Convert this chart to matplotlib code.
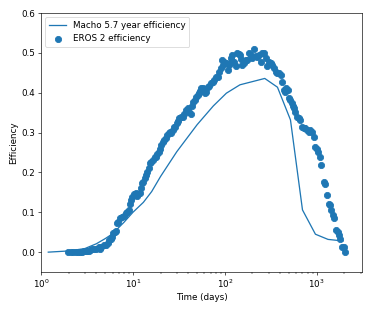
import matplotlib
matplotlib.use("Agg")
import matplotlib.pyplot as plt

plt.rcParams["font.size"] = 10.8

# Macho 5.7 year efficiency curve (time in days, efficiency)
macho_t = [1.2, 2.0, 3.0, 4.0, 5.0, 6.0, 8.0, 10.0, 13.0, 16.0, 20.0, 30.0,
           50.0, 75.0, 104.0, 146.0, 272.0, 374.0, 518.0, 700.0, 968.0,
           1327.0, 1932.0]
macho_eff = [0.0, 0.003, 0.009, 0.021, 0.034, 0.046, 0.075, 0.1, 0.125,
             0.152, 0.19, 0.252, 0.32, 0.367, 0.399, 0.42, 0.436, 0.414,
             0.332, 0.106, 0.045, 0.032, 0.028]

# EROS 2 efficiency points
eros_t = [1.98, 2.10, 2.24, 2.39, 2.54, 2.64, 2.80, 2.95, 3.07, 3.18, 3.34,
          3.45, 3.63, 3.78, 4.01, 4.25, 4.35, 4.54, 4.81, 5.06, 5.36, 5.50,
          5.73, 5.97, 6.07, 6.33, 6.60, 6.71, 6.94, 7.29, 7.66, 8.0, 8.33,
          8.69, 9.05, 9.20, 9.59, 9.84, 10.2, 10.7, 11.0, 11.3, 11.8, 12.1,
          12.6, 13.0, 13.5, 13.9, 14.4, 14.9, 15.4, 15.9, 16.5, 17.2, 17.9,
          18.4, 19.1, 19.8, 20.4, 21.1, 22.0, 23.0, 23.5, 24.5, 25.4, 26.2,
          27.1, 28.0, 29.0, 30.0, 31.0, 32.0, 33.4, 34.8, 36.3, 37.8, 39.4,
          41.1, 42.5, 43.9, 45.4, 46.9, 48.5, 50.6, 52.7, 54.0, 55.4, 58.2,
          60.2, 62.3, 64.9, 67.7, 70.0, 73.5, 76.7, 80.0, 83.3, 86.8, 90.5,
          92.8, 95.9, 99.1, 102.6, 107, 110, 113, 117, 121, 126, 132, 137,
          141, 145, 150, 155, 162, 169, 176, 184, 191, 199, 208, 217, 226,
          235, 245, 256, 267, 278, 290, 302, 315, 328, 342, 357, 372, 388,
          404, 421, 439, 450, 465, 481, 498, 514, 532, 550, 569, 587, 612,
          638, 665, 693, 723, 754, 786, 819, 854, 890, 928, 968, 1009, 1034,
          1077, 1124, 1191, 1242, 1294, 1349, 1383, 1429, 1490, 1541, 1619,
          1702, 1759, 1804, 1881, 1961, 2044]
eros_eff = [0.0, 0.0, 0.0, 0.0, 0.0, 0.001, 0.001, 0.002, 0.002, 0.003, 0.003,
            0.005, 0.007, 0.007, 0.009, 0.012, 0.009, 0.013, 0.018, 0.019,
            0.023, 0.030, 0.034, 0.039, 0.047, 0.051, 0.054, 0.072, 0.076,
            0.085, 0.089, 0.091, 0.097, 0.101, 0.106, 0.122, 0.131, 0.139,
            0.147, 0.149, 0.141, 0.146, 0.149, 0.160, 0.174, 0.177, 0.185,
            0.193, 0.202, 0.210, 0.223, 0.227, 0.231, 0.240, 0.240, 0.246,
            0.252, 0.260, 0.269, 0.277, 0.281, 0.287, 0.294, 0.298, 0.302,
            0.300, 0.307, 0.313, 0.315, 0.323, 0.330, 0.336, 0.340, 0.340,
            0.348, 0.358, 0.361, 0.353, 0.348, 0.367, 0.377, 0.382, 0.390,
            0.394, 0.399, 0.405, 0.411, 0.411, 0.399, 0.403, 0.414, 0.417,
            0.424, 0.428, 0.432, 0.439, 0.439, 0.453, 0.461, 0.482, 0.470,
            0.478, 0.474, 0.457, 0.470, 0.474, 0.487, 0.495, 0.478, 0.466,
            0.499, 0.497, 0.495, 0.484, 0.470, 0.474, 0.482, 0.482, 0.499,
            0.495, 0.487, 0.509, 0.492, 0.491, 0.495, 0.478, 0.499, 0.499,
            0.487, 0.466, 0.478, 0.474, 0.470, 0.461, 0.453, 0.449, 0.449,
            0.445, 0.428, 0.407, 0.403, 0.411, 0.407, 0.386, 0.382, 0.374,
            0.367, 0.363, 0.353, 0.338, 0.336, 0.332, 0.315, 0.311, 0.311,
            0.307, 0.302, 0.307, 0.302, 0.290, 0.265, 0.260, 0.252, 0.240,
            0.219, 0.177, 0.171, 0.143, 0.122, 0.118, 0.106, 0.093, 0.085,
            0.055, 0.051, 0.043, 0.034, 0.013, 0.013, 0.001]

fig = plt.figure(figsize=(374 / 58, 312 / 58), dpi=58)
ax = fig.add_axes([0.1096, 0.128, 0.858, 0.830])

ax.plot(macho_t, macho_eff, color="#1f77b4", lw=1.6,
        label="Macho 5.7 year efficiency")
ax.scatter(eros_t, eros_eff, s=60, color="#1f77b4", zorder=3,
           label="EROS 2 efficiency")

ax.set_xscale("log")
ax.set_xlim(1, 3100)
ax.set_ylim(-0.05, 0.6)
ax.set_xlabel("Time (days)")
ax.set_ylabel("Efficiency")
ax.legend(loc="upper left")

fig.savefig("out.png", dpi=58)
